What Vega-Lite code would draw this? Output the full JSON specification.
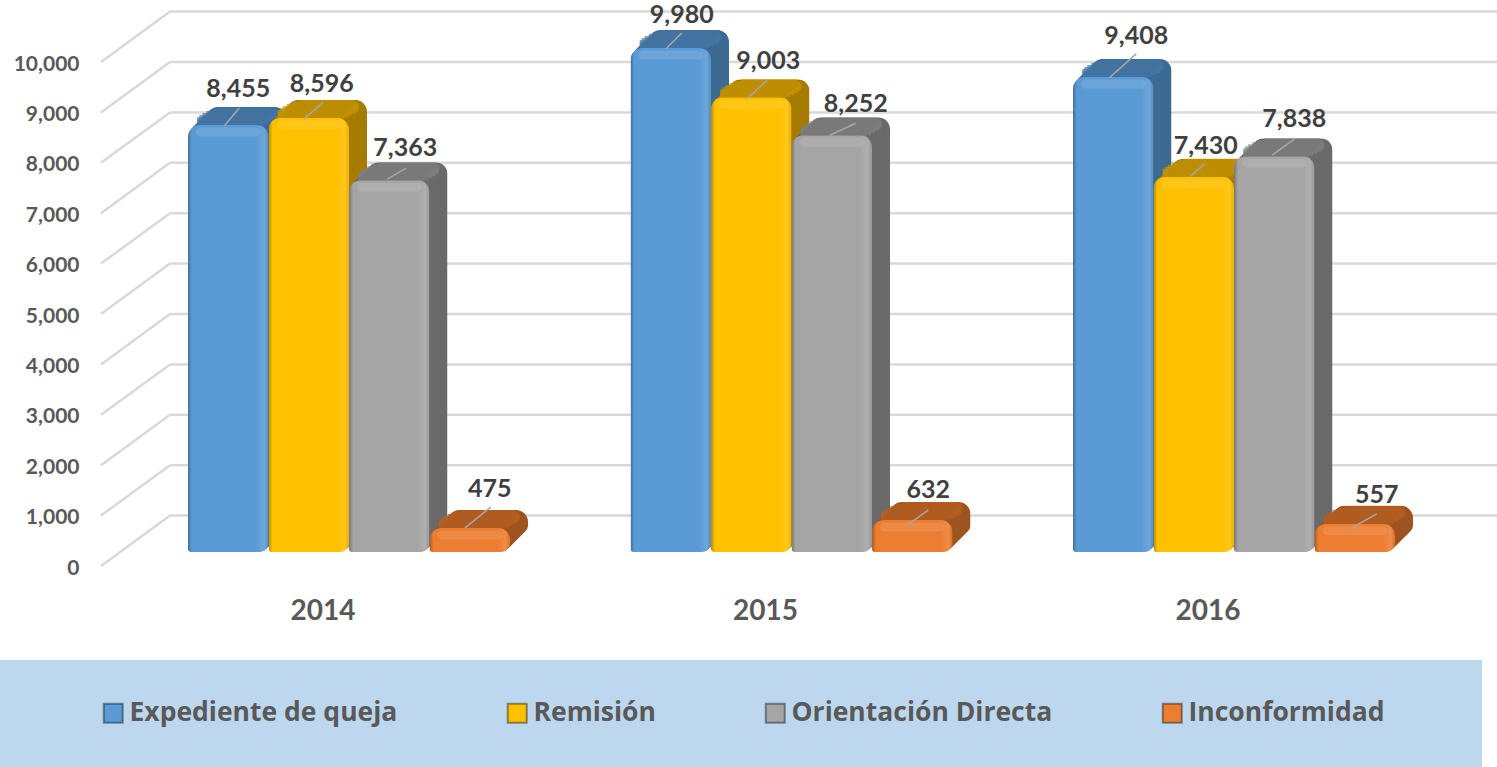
{"$schema":"https://vega.github.io/schema/vega-lite/v6.json","width":1497,"height":767,"autosize":{"type":"none"},"padding":0,"background":"white","config":{"view":{"stroke":null},"font":"Lato"},
"datasets":{"bars":[
{"year":"2014","serie":"Expediente de queja","value":8455},{"year":"2014","serie":"Remisión","value":8596},{"year":"2014","serie":"Orientación Directa","value":7363},{"year":"2014","serie":"Inconformidad","value":475},
{"year":"2015","serie":"Expediente de queja","value":9980},{"year":"2015","serie":"Remisión","value":9003},{"year":"2015","serie":"Orientación Directa","value":8252},{"year":"2015","serie":"Inconformidad","value":632},
{"year":"2016","serie":"Expediente de queja","value":9408},{"year":"2016","serie":"Remisión","value":7430},{"year":"2016","serie":"Orientación Directa","value":7838},{"year":"2016","serie":"Inconformidad","value":557}],
"grid":[{"tick":0,"wall":1000},{"tick":1000,"wall":2000},{"tick":2000,"wall":3000},{"tick":3000,"wall":4000},{"tick":4000,"wall":5000},{"tick":5000,"wall":6000},{"tick":6000,"wall":7000},{"tick":7000,"wall":8000},{"tick":8000,"wall":9000},{"tick":9000,"wall":10000},{"tick":10000,"wall":11000}]},
"data":{"name":"bars"},
"resolve":{"scale":{"x":"independent","y":"independent","color":"independent","shape":"independent"}},
"layer":[
{"data":{"values":[{"panel":"leyenda"}]},"mark":{"type":"rect","color":"#bdd7ee"},"encoding":{"x":{"datum":0,"type":"quantitative","axis":null,"scale":{"domain":[0,1],"range":[0,1482]}},"x2":{"datum":1},"y":{"datum":0,"type":"quantitative","axis":null,"scale":{"domain":[0,1],"range":[660,767]}},"y2":{"datum":1}}},
{"data":{"name":"grid"},"mark":{"type":"rule","color":"#d9d9d9","strokeWidth":2.5},"encoding":{"x":{"datum":0,"type":"quantitative","axis":null,"scale":{"domain":[0,1],"range":[101,170]}},"x2":{"datum":1},"y":{"field":"tick","type":"quantitative","scale":{"domain":[0,11000],"range":[566,11.6]},"axis":{"orient":"left","values":[0,1000,2000,3000,4000,5000,6000,7000,8000,9000,10000],"labelExpr":"format(datum.value, ',')","offset":-79,"labelPadding":0,"labelOffset":2,"title":null,"grid":false,"domain":false,"ticks":false,"labelFont":"Lato","labelFontWeight":"bold","labelFontSize":21,"labelColor":"#595959"}},"y2":{"field":"wall"}}},
{"data":{"name":"grid"},"mark":{"type":"rule","color":"#d9d9d9","strokeWidth":2.5},"encoding":{"x":{"datum":0,"type":"quantitative","axis":null,"scale":{"domain":[0,1],"range":[170,1497]}},"x2":{"datum":1},"y":{"field":"wall","type":"quantitative","axis":null,"scale":{"domain":[0,11000],"range":[566,11.6]}}}},
{"mark":{"type":"bar","width":{"band":1},"cornerRadiusTopLeft":12,"cornerRadiusTopRight":12,"cornerRadiusBottomRight":9,"cornerRadiusBottomLeft":3},"encoding":{"x":{"field":"year","type":"nominal","axis":null,"scale":{"range":[206,1413],"paddingInner":0.2723,"paddingOuter":0}},"xOffset":{"field":"serie","scale":{"domain":["Expediente de queja","Remisión","Orientación Directa","Inconformidad"],"range":[0,322],"paddingInner":0,"paddingOuter":0}},"y":{"field":"value","type":"quantitative","axis":null,"scale":{"domain":[0,10000],"range":[534,29]}},"color":{"field":"serie","legend":null,"scale":{"domain":["Expediente de queja","Remisión","Orientación Directa","Inconformidad"],"range":["#3d6a92","#a67c00","#6a6a6a","#9e5420"]}}}},
{"mark":{"type":"tick","size":56,"thickness":4},"encoding":{"x":{"field":"year","type":"nominal","axis":null,"scale":{"range":[206,1413],"paddingInner":0.2723,"paddingOuter":0}},"xOffset":{"field":"serie","scale":{"domain":["Expediente de queja","Remisión","Orientación Directa","Inconformidad"],"range":[0,322],"paddingInner":0,"paddingOuter":0}},"y":{"field":"value","type":"quantitative","axis":null,"scale":{"domain":[0,10000],"range":[536,31]}},"color":{"field":"serie","legend":null,"scale":{"domain":["Expediente de queja","Remisión","Orientación Directa","Inconformidad"],"range":["#4478a6","#c89600","#808080","#b85f22"]}}}},
{"mark":{"type":"bar","width":{"band":1},"cornerRadiusTopLeft":12,"cornerRadiusTopRight":12,"cornerRadiusBottomRight":9,"cornerRadiusBottomLeft":3},"encoding":{"x":{"field":"year","type":"nominal","axis":null,"scale":{"range":[204,1411],"paddingInner":0.2723,"paddingOuter":0}},"xOffset":{"field":"serie","scale":{"domain":["Expediente de queja","Remisión","Orientación Directa","Inconformidad"],"range":[0,322],"paddingInner":0,"paddingOuter":0}},"y":{"field":"value","type":"quantitative","axis":null,"scale":{"domain":[0,10000],"range":[536,31]}},"color":{"field":"serie","legend":null,"scale":{"domain":["Expediente de queja","Remisión","Orientación Directa","Inconformidad"],"range":["#3d6a92","#a67c00","#6a6a6a","#9e5420"]}}}},
{"mark":{"type":"tick","size":66,"thickness":4},"encoding":{"x":{"field":"year","type":"nominal","axis":null,"scale":{"range":[204,1411],"paddingInner":0.2723,"paddingOuter":0}},"xOffset":{"field":"serie","scale":{"domain":["Expediente de queja","Remisión","Orientación Directa","Inconformidad"],"range":[0,322],"paddingInner":0,"paddingOuter":0}},"y":{"field":"value","type":"quantitative","axis":null,"scale":{"domain":[0,10000],"range":[538,33]}},"color":{"field":"serie","legend":null,"scale":{"domain":["Expediente de queja","Remisión","Orientación Directa","Inconformidad"],"range":["#4478a6","#c89600","#808080","#b85f22"]}}}},
{"mark":{"type":"bar","width":{"band":1},"cornerRadiusTopLeft":12,"cornerRadiusTopRight":12,"cornerRadiusBottomRight":9,"cornerRadiusBottomLeft":3},"encoding":{"x":{"field":"year","type":"nominal","axis":null,"scale":{"range":[202,1409],"paddingInner":0.2723,"paddingOuter":0}},"xOffset":{"field":"serie","scale":{"domain":["Expediente de queja","Remisión","Orientación Directa","Inconformidad"],"range":[0,322],"paddingInner":0,"paddingOuter":0}},"y":{"field":"value","type":"quantitative","axis":null,"scale":{"domain":[0,10000],"range":[538,33]}},"color":{"field":"serie","legend":null,"scale":{"domain":["Expediente de queja","Remisión","Orientación Directa","Inconformidad"],"range":["#3d6a92","#a67c00","#6a6a6a","#9e5420"]}}}},
{"mark":{"type":"tick","size":72,"thickness":4},"encoding":{"x":{"field":"year","type":"nominal","axis":null,"scale":{"range":[202,1409],"paddingInner":0.2723,"paddingOuter":0}},"xOffset":{"field":"serie","scale":{"domain":["Expediente de queja","Remisión","Orientación Directa","Inconformidad"],"range":[0,322],"paddingInner":0,"paddingOuter":0}},"y":{"field":"value","type":"quantitative","axis":null,"scale":{"domain":[0,10000],"range":[540,35]}},"color":{"field":"serie","legend":null,"scale":{"domain":["Expediente de queja","Remisión","Orientación Directa","Inconformidad"],"range":["#4478a6","#c89600","#808080","#b85f22"]}}}},
{"mark":{"type":"bar","width":{"band":1},"cornerRadiusTopLeft":12,"cornerRadiusTopRight":12,"cornerRadiusBottomRight":9,"cornerRadiusBottomLeft":3},"encoding":{"x":{"field":"year","type":"nominal","axis":null,"scale":{"range":[200,1407],"paddingInner":0.2723,"paddingOuter":0}},"xOffset":{"field":"serie","scale":{"domain":["Expediente de queja","Remisión","Orientación Directa","Inconformidad"],"range":[0,322],"paddingInner":0,"paddingOuter":0}},"y":{"field":"value","type":"quantitative","axis":null,"scale":{"domain":[0,10000],"range":[540,35]}},"color":{"field":"serie","legend":null,"scale":{"domain":["Expediente de queja","Remisión","Orientación Directa","Inconformidad"],"range":["#3d6a92","#a67c00","#6a6a6a","#9e5420"]}}}},
{"mark":{"type":"tick","size":76,"thickness":4},"encoding":{"x":{"field":"year","type":"nominal","axis":null,"scale":{"range":[200,1407],"paddingInner":0.2723,"paddingOuter":0}},"xOffset":{"field":"serie","scale":{"domain":["Expediente de queja","Remisión","Orientación Directa","Inconformidad"],"range":[0,322],"paddingInner":0,"paddingOuter":0}},"y":{"field":"value","type":"quantitative","axis":null,"scale":{"domain":[0,10000],"range":[542,37]}},"color":{"field":"serie","legend":null,"scale":{"domain":["Expediente de queja","Remisión","Orientación Directa","Inconformidad"],"range":["#4478a6","#c89600","#808080","#b85f22"]}}}},
{"mark":{"type":"bar","width":{"band":1},"cornerRadiusTopLeft":12,"cornerRadiusTopRight":12,"cornerRadiusBottomRight":9,"cornerRadiusBottomLeft":3},"encoding":{"x":{"field":"year","type":"nominal","axis":null,"scale":{"range":[198,1405],"paddingInner":0.2723,"paddingOuter":0}},"xOffset":{"field":"serie","scale":{"domain":["Expediente de queja","Remisión","Orientación Directa","Inconformidad"],"range":[0,322],"paddingInner":0,"paddingOuter":0}},"y":{"field":"value","type":"quantitative","axis":null,"scale":{"domain":[0,10000],"range":[542,37]}},"color":{"field":"serie","legend":null,"scale":{"domain":["Expediente de queja","Remisión","Orientación Directa","Inconformidad"],"range":["#3d6a92","#a67c00","#6a6a6a","#9e5420"]}}}},
{"mark":{"type":"tick","size":78,"thickness":4},"encoding":{"x":{"field":"year","type":"nominal","axis":null,"scale":{"range":[198,1405],"paddingInner":0.2723,"paddingOuter":0}},"xOffset":{"field":"serie","scale":{"domain":["Expediente de queja","Remisión","Orientación Directa","Inconformidad"],"range":[0,322],"paddingInner":0,"paddingOuter":0}},"y":{"field":"value","type":"quantitative","axis":null,"scale":{"domain":[0,10000],"range":[544,39]}},"color":{"field":"serie","legend":null,"scale":{"domain":["Expediente de queja","Remisión","Orientación Directa","Inconformidad"],"range":["#4478a6","#c89600","#808080","#b85f22"]}}}},
{"mark":{"type":"bar","width":{"band":1},"cornerRadiusTopLeft":12,"cornerRadiusTopRight":12,"cornerRadiusBottomRight":9,"cornerRadiusBottomLeft":3},"encoding":{"x":{"field":"year","type":"nominal","axis":null,"scale":{"range":[196,1403],"paddingInner":0.2723,"paddingOuter":0}},"xOffset":{"field":"serie","scale":{"domain":["Expediente de queja","Remisión","Orientación Directa","Inconformidad"],"range":[0,322],"paddingInner":0,"paddingOuter":0}},"y":{"field":"value","type":"quantitative","axis":null,"scale":{"domain":[0,10000],"range":[544,39]}},"color":{"field":"serie","legend":null,"scale":{"domain":["Expediente de queja","Remisión","Orientación Directa","Inconformidad"],"range":["#3d6a92","#a67c00","#6a6a6a","#9e5420"]}}}},
{"mark":{"type":"tick","size":78,"thickness":4},"encoding":{"x":{"field":"year","type":"nominal","axis":null,"scale":{"range":[196,1403],"paddingInner":0.2723,"paddingOuter":0}},"xOffset":{"field":"serie","scale":{"domain":["Expediente de queja","Remisión","Orientación Directa","Inconformidad"],"range":[0,322],"paddingInner":0,"paddingOuter":0}},"y":{"field":"value","type":"quantitative","axis":null,"scale":{"domain":[0,10000],"range":[546,41]}},"color":{"field":"serie","legend":null,"scale":{"domain":["Expediente de queja","Remisión","Orientación Directa","Inconformidad"],"range":["#4478a6","#c89600","#808080","#b85f22"]}}}},
{"mark":{"type":"bar","width":{"band":1},"cornerRadiusTopLeft":12,"cornerRadiusTopRight":12,"cornerRadiusBottomRight":9,"cornerRadiusBottomLeft":3},"encoding":{"x":{"field":"year","type":"nominal","axis":null,"scale":{"range":[194,1401],"paddingInner":0.2723,"paddingOuter":0}},"xOffset":{"field":"serie","scale":{"domain":["Expediente de queja","Remisión","Orientación Directa","Inconformidad"],"range":[0,322],"paddingInner":0,"paddingOuter":0}},"y":{"field":"value","type":"quantitative","axis":null,"scale":{"domain":[0,10000],"range":[546,41]}},"color":{"field":"serie","legend":null,"scale":{"domain":["Expediente de queja","Remisión","Orientación Directa","Inconformidad"],"range":["#3d6a92","#a67c00","#6a6a6a","#9e5420"]}}}},
{"mark":{"type":"tick","size":74,"thickness":4},"encoding":{"x":{"field":"year","type":"nominal","axis":null,"scale":{"range":[194,1401],"paddingInner":0.2723,"paddingOuter":0}},"xOffset":{"field":"serie","scale":{"domain":["Expediente de queja","Remisión","Orientación Directa","Inconformidad"],"range":[0,322],"paddingInner":0,"paddingOuter":0}},"y":{"field":"value","type":"quantitative","axis":null,"scale":{"domain":[0,10000],"range":[548,43]}},"color":{"field":"serie","legend":null,"scale":{"domain":["Expediente de queja","Remisión","Orientación Directa","Inconformidad"],"range":["#4478a6","#c89600","#808080","#b85f22"]}}}},
{"mark":{"type":"bar","width":{"band":1},"cornerRadiusTopLeft":12,"cornerRadiusTopRight":12,"cornerRadiusBottomRight":9,"cornerRadiusBottomLeft":3},"encoding":{"x":{"field":"year","type":"nominal","axis":null,"scale":{"range":[192,1399],"paddingInner":0.2723,"paddingOuter":0}},"xOffset":{"field":"serie","scale":{"domain":["Expediente de queja","Remisión","Orientación Directa","Inconformidad"],"range":[0,322],"paddingInner":0,"paddingOuter":0}},"y":{"field":"value","type":"quantitative","axis":null,"scale":{"domain":[0,10000],"range":[548,43]}},"color":{"field":"serie","legend":null,"scale":{"domain":["Expediente de queja","Remisión","Orientación Directa","Inconformidad"],"range":["#3d6a92","#a67c00","#6a6a6a","#9e5420"]}}}},
{"mark":{"type":"tick","size":70,"thickness":4},"encoding":{"x":{"field":"year","type":"nominal","axis":null,"scale":{"range":[192,1399],"paddingInner":0.2723,"paddingOuter":0}},"xOffset":{"field":"serie","scale":{"domain":["Expediente de queja","Remisión","Orientación Directa","Inconformidad"],"range":[0,322],"paddingInner":0,"paddingOuter":0}},"y":{"field":"value","type":"quantitative","axis":null,"scale":{"domain":[0,10000],"range":[550,45]}},"color":{"field":"serie","legend":null,"scale":{"domain":["Expediente de queja","Remisión","Orientación Directa","Inconformidad"],"range":["#4478a6","#c89600","#808080","#b85f22"]}}}},
{"mark":{"type":"bar","width":{"band":1},"cornerRadiusTopLeft":12,"cornerRadiusTopRight":12,"cornerRadiusBottomRight":9,"cornerRadiusBottomLeft":3},"encoding":{"x":{"field":"year","type":"nominal","axis":null,"scale":{"range":[190,1397],"paddingInner":0.2723,"paddingOuter":0}},"xOffset":{"field":"serie","scale":{"domain":["Expediente de queja","Remisión","Orientación Directa","Inconformidad"],"range":[0,322],"paddingInner":0,"paddingOuter":0}},"y":{"field":"value","type":"quantitative","axis":null,"scale":{"domain":[0,10000],"range":[550,45]}},"color":{"field":"serie","legend":null,"scale":{"domain":["Expediente de queja","Remisión","Orientación Directa","Inconformidad"],"range":["#3d6a92","#a67c00","#6a6a6a","#9e5420"]}}}},
{"mark":{"type":"tick","size":66,"thickness":4},"encoding":{"x":{"field":"year","type":"nominal","axis":null,"scale":{"range":[190,1397],"paddingInner":0.2723,"paddingOuter":0}},"xOffset":{"field":"serie","scale":{"domain":["Expediente de queja","Remisión","Orientación Directa","Inconformidad"],"range":[0,322],"paddingInner":0,"paddingOuter":0}},"y":{"field":"value","type":"quantitative","axis":null,"scale":{"domain":[0,10000],"range":[552,47]}},"color":{"field":"serie","legend":null,"scale":{"domain":["Expediente de queja","Remisión","Orientación Directa","Inconformidad"],"range":["#4478a6","#c89600","#808080","#b85f22"]}}}},
{"mark":{"type":"bar","width":{"band":1},"cornerRadiusTopLeft":12,"cornerRadiusTopRight":12,"cornerRadiusBottomRight":9,"cornerRadiusBottomLeft":3},"encoding":{"x":{"field":"year","type":"nominal","axis":{"orient":"bottom","offset":-170,"labelOffset":-26,"labelPadding":0,"labelAngle":0,"title":null,"domain":false,"ticks":false,"grid":false,"labelFont":"Lato","labelFontWeight":"bold","labelFontSize":28,"labelColor":"#595959"},"scale":{"range":[188,1395],"paddingInner":0.2723,"paddingOuter":0}},"xOffset":{"field":"serie","scale":{"domain":["Expediente de queja","Remisión","Orientación Directa","Inconformidad"],"range":[0,322],"paddingInner":0,"paddingOuter":0}},"y":{"field":"value","type":"quantitative","axis":null,"scale":{"domain":[0,10000],"range":[552,47]}},"color":{"field":"serie","scale":{"domain":["Expediente de queja","Remisión","Orientación Directa","Inconformidad"],"range":["#5b9bd5","#ffc000","#a5a5a5","#ed7d31"]},"legend":{"orient":"none","legendX":100,"legendY":700,"direction":"horizontal","columns":4,"gridAlign":"none","columnPadding":105,"padding":0,"title":null,"symbolType":"square","symbolSize":361,"symbolStrokeWidth":2,"symbolStrokeColor":"#00000066","labelOffset":3,"labelLimit":400,"labelFont":"Open Sans","labelFontWeight":"bold","labelFontSize":26.5,"labelColor":"#595959"}}}},
{"mark":{"type":"bar","width":{"band":1},"cornerRadiusTopLeft":12,"cornerRadiusTopRight":12,"cornerRadiusBottomRight":9,"cornerRadiusBottomLeft":3,"color":{"x1":0,"x2":1,"y1":0,"y2":0,"gradient":"linear","stops":[{"offset":0,"color":"rgba(0,0,0,0.28)"},{"offset":0.05,"color":"rgba(0,0,0,0)"},{"offset":0.85,"color":"rgba(255,255,255,0)"},{"offset":0.95,"color":"rgba(255,255,255,0.12)"},{"offset":1,"color":"rgba(0,0,0,0.05)"}]}},"encoding":{"x":{"field":"year","type":"nominal","axis":null,"scale":{"range":[188,1395],"paddingInner":0.2723,"paddingOuter":0}},"xOffset":{"field":"serie","scale":{"domain":["Expediente de queja","Remisión","Orientación Directa","Inconformidad"],"range":[0,322],"paddingInner":0,"paddingOuter":0}},"y":{"field":"value","type":"quantitative","axis":null,"scale":{"domain":[0,10000],"range":[552,47]}}}},
{"mark":{"type":"tick","size":64,"thickness":9,"color":"white","opacity":0.1,"cornerRadius":4},"encoding":{"x":{"field":"year","type":"nominal","axis":null,"scale":{"range":[188,1395],"paddingInner":0.2723,"paddingOuter":0}},"xOffset":{"field":"serie","scale":{"domain":["Expediente de queja","Remisión","Orientación Directa","Inconformidad"],"range":[0,322],"paddingInner":0,"paddingOuter":0}},"y":{"field":"value","type":"quantitative","axis":null,"scale":{"domain":[0,10000],"range":[559,54]}}}},
{"mark":{"type":"point","filled":false,"stroke":"#a6a6a6","strokeWidth":1.6,"size":4,"opacity":1},"encoding":{"x":{"field":"year","type":"nominal","axis":null,"scale":{"range":[188,1395],"paddingInner":0.2723,"paddingOuter":0}},"xOffset":{"field":"serie","scale":{"domain":["Expediente de queja","Remisión","Orientación Directa","Inconformidad"],"range":[0,322],"paddingInner":0,"paddingOuter":0}},"y":{"field":"value","type":"quantitative","axis":null,"scale":{"domain":[0,10000],"range":[552,47]}},"shape":{"field":"value","type":"nominal","legend":null,"scale":{"domain":[8455,8596,7363,475,9980,9003,8252,632,9408,7430,7838,557],"range":["M-4,1L11,-17","M-5,1L14,-15","M-2,-1L17,-12","M-5,0L21,-21","M-5,1L11,-15","M-4,1L16,-17","M-2,0L24,-12","M-5,5L16,-10","M-4,1L23,-23","M-4,0L11,-13","M-2,-1L20,-17","M-5,5L22,-10"]}}}},
{"transform":[{"filter":"datum.value==8455"}],"mark":{"type":"text","dx":10,"dy":-36,"font":"Lato","fontWeight":"bold","fontSize":25,"color":"#404040"},"encoding":{"x":{"field":"year","type":"nominal","axis":null,"scale":{"domain":["2014","2015","2016"],"range":[188,1395],"paddingInner":0.2723,"paddingOuter":0}},"xOffset":{"field":"serie","scale":{"domain":["Expediente de queja","Remisión","Orientación Directa","Inconformidad"],"range":[0,322],"paddingInner":0,"paddingOuter":0}},"y":{"field":"value","type":"quantitative","axis":null,"scale":{"domain":[0,10000],"range":[552,47]}},"text":{"field":"value","type":"quantitative","format":","}}},
{"transform":[{"filter":"datum.value==8596"}],"mark":{"type":"text","dx":13,"dy":-34,"font":"Lato","fontWeight":"bold","fontSize":25,"color":"#404040"},"encoding":{"x":{"field":"year","type":"nominal","axis":null,"scale":{"domain":["2014","2015","2016"],"range":[188,1395],"paddingInner":0.2723,"paddingOuter":0}},"xOffset":{"field":"serie","scale":{"domain":["Expediente de queja","Remisión","Orientación Directa","Inconformidad"],"range":[0,322],"paddingInner":0,"paddingOuter":0}},"y":{"field":"value","type":"quantitative","axis":null,"scale":{"domain":[0,10000],"range":[552,47]}},"text":{"field":"value","type":"quantitative","format":","}}},
{"transform":[{"filter":"datum.value==7363"}],"mark":{"type":"text","dx":16,"dy":-32,"font":"Lato","fontWeight":"bold","fontSize":25,"color":"#404040"},"encoding":{"x":{"field":"year","type":"nominal","axis":null,"scale":{"domain":["2014","2015","2016"],"range":[188,1395],"paddingInner":0.2723,"paddingOuter":0}},"xOffset":{"field":"serie","scale":{"domain":["Expediente de queja","Remisión","Orientación Directa","Inconformidad"],"range":[0,322],"paddingInner":0,"paddingOuter":0}},"y":{"field":"value","type":"quantitative","axis":null,"scale":{"domain":[0,10000],"range":[552,47]}},"text":{"field":"value","type":"quantitative","format":","}}},
{"transform":[{"filter":"datum.value==475"}],"mark":{"type":"text","dx":20,"dy":-39,"font":"Lato","fontWeight":"bold","fontSize":25,"color":"#404040"},"encoding":{"x":{"field":"year","type":"nominal","axis":null,"scale":{"domain":["2014","2015","2016"],"range":[188,1395],"paddingInner":0.2723,"paddingOuter":0}},"xOffset":{"field":"serie","scale":{"domain":["Expediente de queja","Remisión","Orientación Directa","Inconformidad"],"range":[0,322],"paddingInner":0,"paddingOuter":0}},"y":{"field":"value","type":"quantitative","axis":null,"scale":{"domain":[0,10000],"range":[552,47]}},"text":{"field":"value","type":"quantitative","format":","}}},
{"transform":[{"filter":"datum.value==9980"}],"mark":{"type":"text","dx":11,"dy":-33,"font":"Lato","fontWeight":"bold","fontSize":25,"color":"#404040"},"encoding":{"x":{"field":"year","type":"nominal","axis":null,"scale":{"domain":["2014","2015","2016"],"range":[188,1395],"paddingInner":0.2723,"paddingOuter":0}},"xOffset":{"field":"serie","scale":{"domain":["Expediente de queja","Remisión","Orientación Directa","Inconformidad"],"range":[0,322],"paddingInner":0,"paddingOuter":0}},"y":{"field":"value","type":"quantitative","axis":null,"scale":{"domain":[0,10000],"range":[552,47]}},"text":{"field":"value","type":"quantitative","format":","}}},
{"transform":[{"filter":"datum.value==9003"}],"mark":{"type":"text","dx":17,"dy":-36,"font":"Lato","fontWeight":"bold","fontSize":25,"color":"#404040"},"encoding":{"x":{"field":"year","type":"nominal","axis":null,"scale":{"domain":["2014","2015","2016"],"range":[188,1395],"paddingInner":0.2723,"paddingOuter":0}},"xOffset":{"field":"serie","scale":{"domain":["Expediente de queja","Remisión","Orientación Directa","Inconformidad"],"range":[0,322],"paddingInner":0,"paddingOuter":0}},"y":{"field":"value","type":"quantitative","axis":null,"scale":{"domain":[0,10000],"range":[552,47]}},"text":{"field":"value","type":"quantitative","format":","}}},
{"transform":[{"filter":"datum.value==8252"}],"mark":{"type":"text","dx":24,"dy":-31,"font":"Lato","fontWeight":"bold","fontSize":25,"color":"#404040"},"encoding":{"x":{"field":"year","type":"nominal","axis":null,"scale":{"domain":["2014","2015","2016"],"range":[188,1395],"paddingInner":0.2723,"paddingOuter":0}},"xOffset":{"field":"serie","scale":{"domain":["Expediente de queja","Remisión","Orientación Directa","Inconformidad"],"range":[0,322],"paddingInner":0,"paddingOuter":0}},"y":{"field":"value","type":"quantitative","axis":null,"scale":{"domain":[0,10000],"range":[552,47]}},"text":{"field":"value","type":"quantitative","format":","}}},
{"transform":[{"filter":"datum.value==632"}],"mark":{"type":"text","dx":16,"dy":-30,"font":"Lato","fontWeight":"bold","fontSize":25,"color":"#404040"},"encoding":{"x":{"field":"year","type":"nominal","axis":null,"scale":{"domain":["2014","2015","2016"],"range":[188,1395],"paddingInner":0.2723,"paddingOuter":0}},"xOffset":{"field":"serie","scale":{"domain":["Expediente de queja","Remisión","Orientación Directa","Inconformidad"],"range":[0,322],"paddingInner":0,"paddingOuter":0}},"y":{"field":"value","type":"quantitative","axis":null,"scale":{"domain":[0,10000],"range":[552,47]}},"text":{"field":"value","type":"quantitative","format":","}}},
{"transform":[{"filter":"datum.value==9408"}],"mark":{"type":"text","dx":23,"dy":-41,"font":"Lato","fontWeight":"bold","fontSize":25,"color":"#404040"},"encoding":{"x":{"field":"year","type":"nominal","axis":null,"scale":{"domain":["2014","2015","2016"],"range":[188,1395],"paddingInner":0.2723,"paddingOuter":0}},"xOffset":{"field":"serie","scale":{"domain":["Expediente de queja","Remisión","Orientación Directa","Inconformidad"],"range":[0,322],"paddingInner":0,"paddingOuter":0}},"y":{"field":"value","type":"quantitative","axis":null,"scale":{"domain":[0,10000],"range":[552,47]}},"text":{"field":"value","type":"quantitative","format":","}}},
{"transform":[{"filter":"datum.value==7430"}],"mark":{"type":"text","dx":12,"dy":-31,"font":"Lato","fontWeight":"bold","fontSize":25,"color":"#404040"},"encoding":{"x":{"field":"year","type":"nominal","axis":null,"scale":{"domain":["2014","2015","2016"],"range":[188,1395],"paddingInner":0.2723,"paddingOuter":0}},"xOffset":{"field":"serie","scale":{"domain":["Expediente de queja","Remisión","Orientación Directa","Inconformidad"],"range":[0,322],"paddingInner":0,"paddingOuter":0}},"y":{"field":"value","type":"quantitative","axis":null,"scale":{"domain":[0,10000],"range":[552,47]}},"text":{"field":"value","type":"quantitative","format":","}}},
{"transform":[{"filter":"datum.value==7838"}],"mark":{"type":"text","dx":20,"dy":-37,"font":"Lato","fontWeight":"bold","fontSize":25,"color":"#404040"},"encoding":{"x":{"field":"year","type":"nominal","axis":null,"scale":{"domain":["2014","2015","2016"],"range":[188,1395],"paddingInner":0.2723,"paddingOuter":0}},"xOffset":{"field":"serie","scale":{"domain":["Expediente de queja","Remisión","Orientación Directa","Inconformidad"],"range":[0,322],"paddingInner":0,"paddingOuter":0}},"y":{"field":"value","type":"quantitative","axis":null,"scale":{"domain":[0,10000],"range":[552,47]}},"text":{"field":"value","type":"quantitative","format":","}}},
{"transform":[{"filter":"datum.value==557"}],"mark":{"type":"text","dx":22,"dy":-29,"font":"Lato","fontWeight":"bold","fontSize":25,"color":"#404040"},"encoding":{"x":{"field":"year","type":"nominal","axis":null,"scale":{"domain":["2014","2015","2016"],"range":[188,1395],"paddingInner":0.2723,"paddingOuter":0}},"xOffset":{"field":"serie","scale":{"domain":["Expediente de queja","Remisión","Orientación Directa","Inconformidad"],"range":[0,322],"paddingInner":0,"paddingOuter":0}},"y":{"field":"value","type":"quantitative","axis":null,"scale":{"domain":[0,10000],"range":[552,47]}},"text":{"field":"value","type":"quantitative","format":","}}}
]}
